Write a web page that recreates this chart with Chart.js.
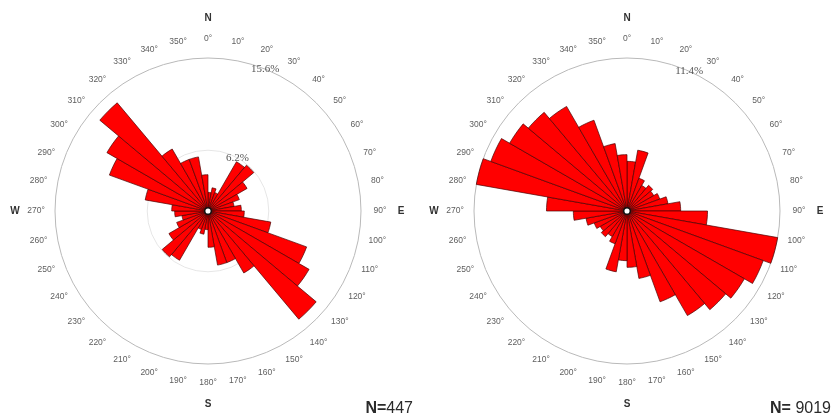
<!DOCTYPE html>
<html>
<head>
<meta charset="utf-8">
<script src="https://cdn.jsdelivr.net/npm/chart.js@4/dist/chart.umd.min.js"></script>
<style>
  html, body { margin: 0; padding: 0; background: #fff; overflow: hidden; width: 834px; height: 417px; }
  .rose { position: absolute; top: 0; width: 416px; height: 423px; }
  #roseA { left: 0; }
  #roseB { left: 419px; }
</style>
</head>
<body>
<div class="rose" id="roseA"><canvas id="canvasA"></canvas></div>
<div class="rose" id="roseB"><canvas id="canvasB"></canvas></div>
<script>
// 10° direction bins, clockwise from north
const directions = [
  '0°', '10°', '20°', '30°', '40°', '50°', '60°', '70°', '80°',
  '90°', '100°', '110°', '120°', '130°', '140°', '150°', '160°', '170°',
  '180°', '190°', '200°', '210°', '220°', '230°', '240°', '250°', '260°',
  '270°', '280°', '290°', '300°', '310°', '320°', '330°', '340°', '350°'
];

// percentage of measurements per bin (bidirectional, so each value repeats 180° later)
const roseA = [
  1.9, 2.4, 2.0, 5.8, 6.1, 4.6, 3.4, 2.7, 3.4,
  3.7, 6.5, 10.7, 11.9, 14.4, 7.3, 5.6, 5.6, 3.7,
  1.9, 2.4, 2.0, 5.8, 6.1, 4.6, 3.4, 2.7, 3.4,
  3.7, 6.5, 10.7, 11.9, 14.4, 7.3, 5.6, 5.6, 3.7
];
const roseB = [
  3.7, 4.6, 2.6, 2.2, 2.5, 2.3, 2.6, 3.1, 4.0,
  6.0, 11.4, 10.8, 10.1, 9.6, 9.0, 7.2, 5.1, 4.2,
  3.7, 4.6, 2.6, 2.2, 2.5, 2.3, 2.6, 3.1, 4.0,
  6.0, 11.4, 10.8, 10.1, 9.6, 9.0, 7.2, 5.1, 4.2
];

// reference circles (percent) and the direction their labels sit at
const ringsA = [6.2, 15.6];
const ringLabelAnglesA = [29, 22];
const ringsB = [11.4];
const ringLabelAnglesB = [24];

// sample sizes
const countA = 447;
const countB = 9019;

const cardinals = [['N', 0], ['E', 9], ['S', 18], ['W', 27]];

const SANS = '"Liberation Sans", Arial, Helvetica, sans-serif';
const SERIF = '"Liberation Serif", "Times New Roman", serif';

const roseDecor = {
  id: 'roseDecor',
  afterDatasetsDraw(chart, args, opts) {
    const s = chart.scales.r;
    const ctx = chart.ctx;
    const cx = s.xCenter, cy = s.yCenter;
    ctx.save();

    // centre hole
    ctx.beginPath();
    ctx.arc(cx, cy, 3.3, 0, Math.PI * 2);
    ctx.fillStyle = '#ffffff';
    ctx.fill();
    ctx.lineWidth = 1.5;
    ctx.strokeStyle = '#111';
    ctx.stroke();

    // ring percentages
    ctx.font = '11px ' + SERIF;
    ctx.fillStyle = '#555';
    ctx.textAlign = 'center';
    ctx.textBaseline = 'middle';
    opts.rings.forEach((v, k) => {
      const d = s.getDistanceFromCenterForValue(v);
      const a = opts.angles[k] * Math.PI / 180;
      ctx.fillText(v.toFixed(1) + '%', cx + d * Math.sin(a), cy - d * Math.cos(a));
    });
    ctx.restore();
  },
  afterDraw(chart, args, opts) {
    const s = chart.scales.r;
    const ctx = chart.ctx;
    const R = s.drawingArea;
    ctx.save();
    ctx.textAlign = 'center';
    ctx.textBaseline = 'middle';

    // degree labels around the rim
    ctx.font = '8.5px ' + SANS;
    ctx.fillStyle = '#5e5e5e';
    chart.data.labels.forEach((lab, i) => {
      const p = s.getPointPosition(i, R + 19);
      ctx.fillText(lab, p.x, p.y);
    });

    // compass letters
    ctx.font = 'bold 10px ' + SANS;
    ctx.fillStyle = '#333';
    cardinals.forEach(([t, i]) => {
      const p = s.getPointPosition(i, R + 40);
      ctx.fillText(t, p.x, p.y);
    });

    // sample size
    ctx.textBaseline = 'alphabetic';
    ctx.textAlign = 'right';
    ctx.fillStyle = '#2a2a2a';
    ctx.font = '16px ' + SANS;
    const num = opts.countText;
    const x = opts.countX, y = 413;
    ctx.fillText(num, x, y);
    const w = ctx.measureText(num).width;
    ctx.font = 'bold 16px ' + SANS;
    ctx.fillText(opts.prefix, x - w, y);
    ctx.restore();
  }
};

function makeRose(canvasId, values, rings, angles, countText, prefix, countX) {
  const max = rings[rings.length - 1];
  return new Chart(document.getElementById(canvasId), {
    type: 'polarArea',
    data: {
      labels: directions,
      datasets: [{
        data: values,
        backgroundColor: '#ff0000',
        borderColor: 'rgba(70,0,0,0.9)',
        borderWidth: 0.75
      }]
    },
    options: {
      responsive: true,
      maintainAspectRatio: false,
      animation: false,
      layout: { padding: 55 },
      plugins: {
        legend: { display: false },
        tooltip: { enabled: false },
        roseDecor: { rings: rings, angles: angles, countText: countText, prefix: prefix, countX: countX }
      },
      scales: {
        r: {
          min: 0,
          max: max,
          startAngle: 0,
          ticks: { display: false },
          afterBuildTicks: sc => { sc.ticks = [0].concat(rings).map(v => ({ value: v })); },
          grid: {
            circular: true,
            lineWidth: 1,
            color: c => (c.tick && c.tick.value === max) ? '#b9b9b9' : '#e6e6e6'
          },
          angleLines: { display: false },
          pointLabels: { display: false }
        }
      }
    },
    plugins: [roseDecor]
  });
}

makeRose('canvasA', roseA, ringsA, ringLabelAnglesA, String(countA), 'N=', 413);
makeRose('canvasB', roseB, ringsB, ringLabelAnglesB, String(countB), 'N= ', 412);
</script>
</body>
</html>
